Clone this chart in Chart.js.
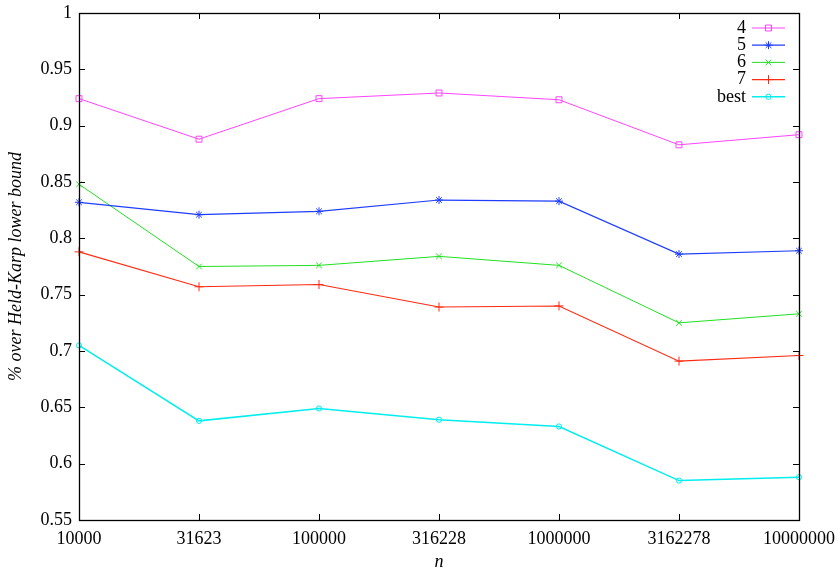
<!DOCTYPE html>
<html>
<head>
<meta charset="utf-8">
<script src="https://cdn.jsdelivr.net/npm/chart.js@4/dist/chart.umd.min.js"></script>
<style>
  html, body { margin: 0; padding: 0; background: #fff; }
  #wrap { width: 838px; height: 573px; }
</style>
</head>
<body>
<div id="wrap"><canvas id="c" width="838" height="573"></canvas></div>
<script>
// Problem sizes n (x categories)
const sizes = ['10000', '31623', '100000', '316228', '1000000', '3162278', '10000000'];

// Excess over the Held-Karp bound for each variant
const k4   = [0.924, 0.888, 0.924, 0.929, 0.923, 0.883, 0.892];
const k5   = [0.832, 0.821, 0.824, 0.834, 0.833, 0.786, 0.789];
const k6   = [0.848, 0.775, 0.776, 0.784, 0.776, 0.725, 0.733];
const k7   = [0.788, 0.757, 0.759, 0.739, 0.740, 0.691, 0.696];
const best = [0.705, 0.638, 0.649, 0.639, 0.633, 0.585, 0.588];

const yTicks = [0.55, 0.6, 0.65, 0.7, 0.75, 0.8, 0.85, 0.9, 0.95, 1];

const FONT = '"Liberation Serif", "DejaVu Serif", serif';

const series = [
  { label: '4',    data: k4,   color: '#ff44ff', style: 'rect',     radius: 4.2, width: 1 },
  { label: '5',    data: k5,   color: '#1f3dff', style: 'star',     radius: 4,   width: 1.2 },
  { label: '6',    data: k6,   color: '#22e022', style: 'crossRot', radius: 4,   width: 1 },
  { label: '7',    data: k7,   color: '#ff2a10', style: 'cross',    radius: 4.5, width: 1.1 },
  { label: 'best', data: best, color: '#00eeee', style: 'circle',   radius: 2.6, width: 1.5 }
];

function marker(ctx, style, r, x, y, color) {
  ctx.save();
  ctx.strokeStyle = color;
  ctx.lineWidth = 1;
  ctx.beginPath();
  if (style === 'rect') {
    const s = r * Math.SQRT1_2;
    ctx.rect(x - s, y - s, 2 * s, 2 * s);
  } else if (style === 'circle') {
    ctx.arc(x, y, r, 0, Math.PI * 2);
  } else if (style === 'cross') {
    ctx.moveTo(x - r, y); ctx.lineTo(x + r, y);
    ctx.moveTo(x, y - r); ctx.lineTo(x, y + r);
  } else if (style === 'crossRot') {
    const d = r * Math.SQRT1_2;
    ctx.moveTo(x - d, y - d); ctx.lineTo(x + d, y + d);
    ctx.moveTo(x - d, y + d); ctx.lineTo(x + d, y - d);
  } else if (style === 'star') {
    const d = r * Math.SQRT1_2;
    ctx.moveTo(x - r, y); ctx.lineTo(x + r, y);
    ctx.moveTo(x, y - r); ctx.lineTo(x, y + r);
    ctx.moveTo(x - d, y - d); ctx.lineTo(x + d, y + d);
    ctx.moveTo(x - d, y + d); ctx.lineTo(x + d, y - d);
  }
  ctx.stroke();
  ctx.restore();
}

// Frame, inward mirrored ticks, axis titles and key
const framePlugin = {
  id: 'frame',
  afterDraw(chart) {
    const { ctx, chartArea: a, scales } = chart;
    const xs = scales.x, ys = scales.y;
    const tl = 6;
    ctx.save();
    ctx.strokeStyle = '#000';
    ctx.lineWidth = 1;
    ctx.beginPath();
    yTicks.forEach(v => {
      const py = Math.round(ys.getPixelForValue(v)) + 0.5;
      ctx.moveTo(a.left, py); ctx.lineTo(a.left + tl, py);
      ctx.moveTo(a.right, py); ctx.lineTo(a.right - tl, py);
    });
    sizes.forEach((s, i) => {
      const px = Math.round(xs.getPixelForValue(i)) + 0.5;
      ctx.moveTo(px, a.bottom); ctx.lineTo(px, a.bottom - tl);
      ctx.moveTo(px, a.top); ctx.lineTo(px, a.top + tl);
    });
    ctx.stroke();
    ctx.lineWidth = 1.3;
    ctx.strokeRect(Math.round(a.left) + 0.5, Math.round(a.top) + 0.5,
                   Math.round(a.right - a.left), Math.round(a.bottom - a.top));

    // axis titles
    ctx.fillStyle = '#000';
    ctx.font = 'italic 18px ' + FONT;
    ctx.textAlign = 'center';
    ctx.textBaseline = 'middle';
    ctx.fillText('n', (a.left + a.right) / 2, 562);
    ctx.save();
    ctx.translate(16, (a.top + a.bottom) / 2);
    ctx.rotate(-Math.PI / 2);
    ctx.fillText('% over Held-Karp lower bound', 0, 0);
    ctx.restore();

    // key
    ctx.font = '18px ' + FONT;
    ctx.textAlign = 'right';
    series.forEach((s, i) => {
      const y = 28 + i * 17.2;
      ctx.fillStyle = '#000';
      ctx.fillText(s.label, 746, y);
      ctx.strokeStyle = s.color;
      ctx.lineWidth = s.width;
      ctx.beginPath();
      ctx.moveTo(752, y); ctx.lineTo(785, y);
      ctx.stroke();
      marker(ctx, s.style, s.radius, 768.5, y, s.color);
    });
    ctx.restore();
  }
};

new Chart(document.getElementById('c'), {
  type: 'line',
  data: {
    labels: sizes,
    datasets: series.map(s => ({
      label: s.label,
      data: s.data,
      borderColor: s.color,
      backgroundColor: 'rgba(0,0,0,0)',
      borderWidth: s.width,
      pointStyle: s.style,
      pointRadius: s.radius,
      pointBorderColor: s.color,
      pointBackgroundColor: 'rgba(0,0,0,0)',
      pointBorderWidth: 1,
      tension: 0,
      fill: false,
      clip: false
    }))
  },
  options: {
    responsive: false,
    animation: false,
    devicePixelRatio: 1,
    layout: { padding: { left: 0, right: 39, top: 13, bottom: 0 } },
    plugins: { legend: { display: false }, tooltip: { enabled: false } },
    scales: {
      x: {
        type: 'category',
        offset: false,
        grid: { display: false, drawTicks: false },
        border: { display: false },
        ticks: {
          color: '#000',
          font: { family: FONT, size: 18 },
          padding: 8,
          maxRotation: 0,
          autoSkip: false
        },
        afterFit(s) { s.height = 53; s.paddingLeft = 0; s.paddingRight = 0; }
      },
      y: {
        min: 0.55,
        max: 1,
        grid: { display: false, drawTicks: false },
        border: { display: false },
        afterBuildTicks(s) { s.ticks = yTicks.map(v => ({ value: v })); },
        ticks: {
          color: '#000',
          font: { family: FONT, size: 18 },
          padding: 7,
          callback: v => String(Math.round(v * 100) / 100)
        },
        afterFit(s) { s.width = 79; s.paddingTop = 0; s.paddingBottom = 0; }
      }
    }
  },
  plugins: [framePlugin]
});
</script>
</body>
</html>
